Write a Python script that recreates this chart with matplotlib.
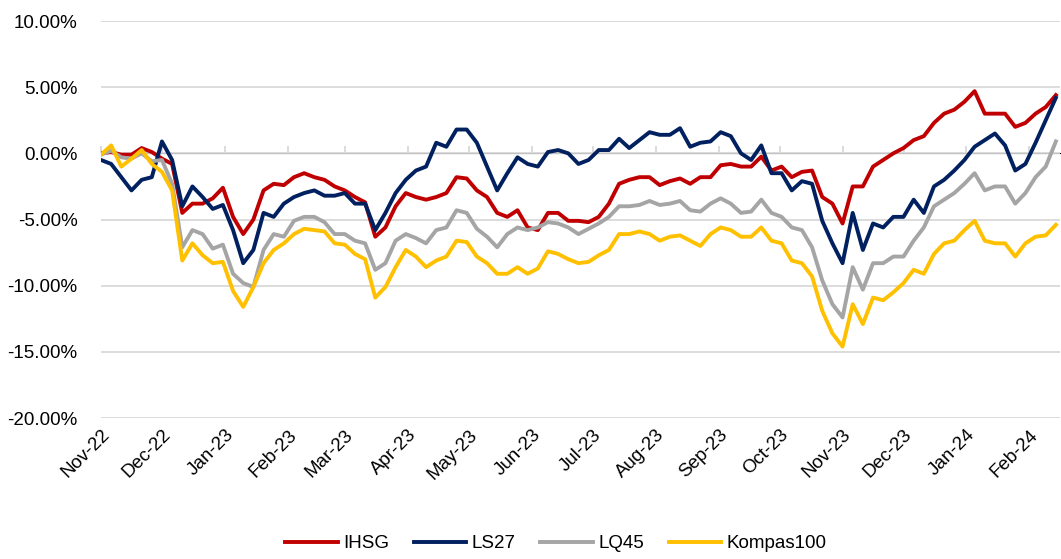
import pandas as pd
import matplotlib
matplotlib.use("Agg")
import matplotlib.pyplot as plt
import matplotlib.dates as mdates
from matplotlib.ticker import FuncFormatter

# sample dates, one every 5 calendar days from 1 Nov 2022
dates = pd.date_range("2022-11-01", periods=95, freq="5D")

# cumulative return in %
ihsg = [0.0, 0.1, -0.1, -0.1, 0.4, 0.1, -0.4, -0.8, -4.5, -3.8,
        -3.8, -3.4, -2.6, -4.8, -6.1, -5.0, -2.8, -2.3, -2.4, -1.8,
        -1.5, -1.8, -2.0, -2.5, -2.8, -3.3, -3.7, -6.3, -5.6, -4.0,
        -3.0, -3.3, -3.5, -3.3, -3.0, -1.8, -1.9, -2.8, -3.3, -4.5,
        -4.8, -4.3, -5.6, -5.8, -4.5, -4.5, -5.1, -5.1, -5.2, -4.8,
        -3.8, -2.3, -2.0, -1.8, -1.8, -2.4, -2.1, -1.9, -2.3, -1.8,
        -1.8, -0.9, -0.8, -1.0, -1.0, -0.25, -1.3, -1.0, -1.8, -1.4,
        -1.3, -3.3, -3.8, -5.3, -2.5, -2.5, -1.0, -0.5, 0.0, 0.4,
        1.0, 1.3, 2.3, 3.0, 3.3, 3.9, 4.7, 3.0, 3.0, 3.0,
        2.0, 2.3, 3.0, 3.5, 4.4]
ls27 = [-0.5, -0.8, -1.8, -2.8, -2.0, -1.8, 0.9, -0.5, -4.0, -2.5,
        -3.3, -4.2, -3.9, -5.8, -8.3, -7.3, -4.5, -4.8, -3.8, -3.3,
        -3.0, -2.8, -3.2, -3.2, -3.0, -3.8, -3.8, -5.8, -4.5, -3.0,
        -2.0, -1.3, -1.0, 0.8, 0.5, 1.8, 1.8, 0.8, -1.0, -2.8,
        -1.5, -0.3, -0.8, -1.0, 0.1, 0.25, 0.0, -0.8, -0.5, 0.25,
        0.25, 1.1, 0.4, 1.0, 1.6, 1.4, 1.4, 1.9, 0.5, 0.8,
        0.9, 1.6, 1.3, 0.0, -0.5, 0.6, -1.5, -1.5, -2.8, -2.1,
        -2.3, -5.1, -6.8, -8.3, -4.5, -7.3, -5.3, -5.6, -4.8, -4.8,
        -3.5, -4.5, -2.5, -2.0, -1.3, -0.5, 0.5, 1.0, 1.5, 0.6,
        -1.3, -0.8, 0.8, 2.5, 4.2]
lq45 = [-0.1, 0.2, -0.3, -0.4, 0.0, -0.6, -0.5, -2.3, -7.1, -5.8,
        -6.1, -7.2, -6.9, -9.1, -9.8, -10.1, -7.3, -6.1, -6.3, -5.1,
        -4.8, -4.8, -5.2, -6.1, -6.1, -6.6, -6.8, -8.8, -8.3, -6.6,
        -6.1, -6.4, -6.8, -5.8, -5.6, -4.3, -4.5, -5.7, -6.3, -7.1,
        -6.1, -5.6, -5.8, -5.6, -5.2, -5.3, -5.6, -6.1, -5.7, -5.3,
        -4.8, -4.0, -4.0, -3.9, -3.6, -3.9, -3.8, -3.6, -4.3, -4.4,
        -3.8, -3.4, -3.8, -4.5, -4.4, -3.5, -4.5, -4.8, -5.6, -5.8,
        -7.1, -9.6, -11.4, -12.4, -8.6, -10.3, -8.3, -8.3, -7.8, -7.8,
        -6.6, -5.6, -4.0, -3.5, -3.0, -2.3, -1.5, -2.8, -2.5, -2.5,
        -3.8, -3.0, -1.8, -1.0, 0.9]
kompas100 = [-0.1, 0.6, -1.0, -0.4, 0.25, -0.8, -1.4, -2.8, -8.1, -6.8,
             -7.7, -8.3, -8.2, -10.4, -11.6, -10.1, -8.3, -7.3, -6.8, -6.1,
             -5.7, -5.8, -5.9, -6.8, -6.9, -7.6, -8.0, -10.9, -10.1, -8.6,
             -7.3, -7.8, -8.6, -8.1, -7.8, -6.6, -6.7, -7.8, -8.3, -9.1,
             -9.1, -8.6, -9.1, -8.7, -7.4, -7.6, -8.0, -8.3, -8.2, -7.7,
             -7.3, -6.1, -6.1, -5.9, -6.1, -6.6, -6.3, -6.2, -6.6, -7.0,
             -6.1, -5.6, -5.8, -6.3, -6.3, -5.6, -6.6, -6.8, -8.1, -8.3,
             -9.3, -11.9, -13.6, -14.6, -11.4, -12.9, -10.9, -11.1, -10.5, -9.8,
             -8.8, -9.1, -7.6, -6.8, -6.6, -5.8, -5.1, -6.6, -6.8, -6.8,
             -7.8, -6.8, -6.3, -6.2, -5.4]

series = ["IHSG", "LS27", "LQ45", "Kompas100"]
colors = ["#C00000", "#002060", "#A5A5A5", "#FFC000"]
values = [ihsg, ls27, lq45, kompas100]

month_ticks = pd.date_range("2022-11-01", "2024-02-01", freq="MS")

plt.rcParams["font.family"] = ["Liberation Sans", "DejaVu Sans"]

fig = plt.figure(figsize=(10.61, 5.59), dpi=100)
ax = fig.add_axes([0.0952, 0.2522, 0.9038, 0.7102])

for name, col, vals in zip(series, colors, values):
    ax.plot(dates, [v / 100 for v in vals], color=col, linewidth=2.8, label=name,
            solid_joinstyle="round")

ax.set_ylim(-0.20, 0.10)
ax.set_yticks([-0.20, -0.15, -0.10, -0.05, 0.0, 0.05, 0.10])
ax.yaxis.set_major_formatter(FuncFormatter(lambda v, p: f"{v * 100:.2f}%"))
ax.set_xlim(pd.Timestamp("2022-11-01"), pd.Timestamp("2024-02-16"))
ax.set_xticks(month_ticks)
ax.xaxis.set_major_formatter(mdates.DateFormatter("%b-%y"))

ax.grid(axis="y", color="#D9D9D9", linewidth=1.3)
ax.set_axisbelow(True)
for s in ax.spines.values():
    s.set_visible(False)
ax.tick_params(axis="both", length=0, labelsize=13.5, colors="#000000")
ax.tick_params(axis="y", pad=17)
ax.tick_params(axis="x", pad=6)
for lbl in ax.get_xticklabels():
    lbl.set_rotation(45)
    lbl.set_ha("right")
    lbl.set_rotation_mode("anchor")

# category axis crosses at 0% with small outward ticks
sec = ax.secondary_xaxis(2 / 3)
sec.set_xticks(month_ticks)
sec.tick_params(axis="x", direction="out", length=5, width=1.3, color="#D9D9D9",
                labelbottom=False, labeltop=False)
sec.spines["bottom"].set_color("#D9D9D9")
sec.spines["bottom"].set_linewidth(1.3)

fig.legend(loc="lower center", bbox_to_anchor=(0.524, -0.018), ncol=4, frameon=False,
           fontsize=13.5, handlelength=2.8, columnspacing=1.3, handletextpad=0.3)

fig.savefig("out.png", dpi=100)
